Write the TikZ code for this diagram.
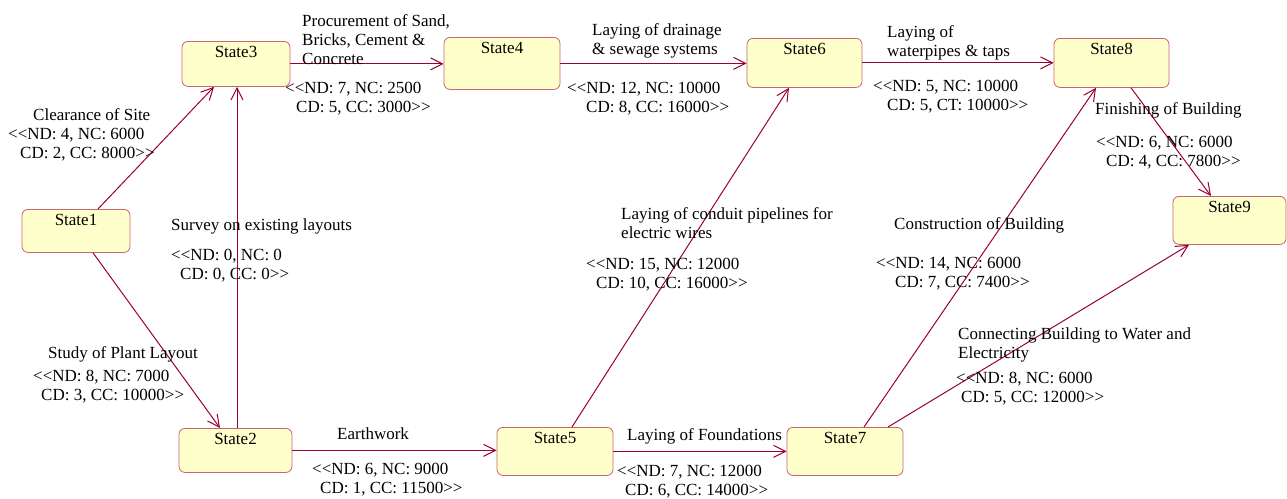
\documentclass[tikz,border=0pt]{standalone}
\usepackage{fontspec}
\setmainfont{Liberation Serif}
\usepackage{tikz}
\usetikzlibrary{arrows.meta,positioning}
\definecolor{stateedge}{RGB}{200,100,115}
\definecolor{statefill}{RGB}{255,255,204}
\definecolor{flowred}{RGB}{153,0,51}

\begin{document}
\begin{tikzpicture}[x=1pt, y=-1pt,
    statebox/.style={rectangle, draw=stateedge, fill=statefill, rounded corners=6pt, line width=0.8pt, minimum width=116pt, inner ysep=0pt, text height=16pt, text depth=32pt, anchor=north, font=\fontsize{17}{19}\selectfont},
    lbl/.style={inner sep=0pt, anchor=base west, align=left, font=\fontsize{17}{19}\selectfont},
    flow/.style={-{Straight Barb[length=12pt, width=12pt, line width=1pt]}, draw=flowred, line width=1pt}
]
    \useasboundingbox (0,0) rectangle (1287,498);

    % states
    \node[statebox, minimum width=108pt, text depth=27pt] (s1) at (76,209) {State1};
    \node[statebox, minimum width=113pt, text depth=28pt] (s2) at (235.5,428) {State2};
    \node[statebox, minimum width=108pt, text depth=29pt] (s3) at (236,41) {State3};
    \node[statebox, text depth=36pt] (s4) at (502,37) {State4};
    \node[statebox] (s5) at (555,427) {State5};
    \node[statebox, minimum width=115pt, text depth=33pt] (s6) at (804.5,38) {State6};
    \node[statebox] (s7) at (845,427) {State7};
    \node[statebox, minimum width=115pt, text depth=33pt] (s8) at (1111.5,38) {State8};
    \node[statebox, minimum width=113pt] (s9) at (1229.5,196) {State9};

    % transitions
    \draw[flow] ([xshift=22pt]s1.north) -- ([xshift=-22pt]s3.south);
    \draw[flow] ([xshift=17pt]s1.south) -- ([xshift=-15.5pt]s2.north);
    \draw[flow] ([xshift=1.5pt]s2.north) -- ([xshift=1.5pt]s2.north |- s3.south);
    \draw[flow] (s3.east) -- (s3.east -| s4.west);
    \draw[flow] (s4.east) -- (s4.east -| s6.west);
    \draw[flow] (s6.east) -- (s6.east -| s8.west);
    \draw[flow] (s2.east) -- (s2.east -| s5.west);
    \draw[flow] (s5.east) -- (s5.east -| s7.west);
    \draw[flow] ([xshift=17pt]s5.north) -- ([xshift=-15.5pt]s6.south);
    \draw[flow] ([xshift=19pt]s7.north) -- ([xshift=-15.5pt]s8.south);
    \draw[flow] ([xshift=43pt]s7.north) -- ([xshift=-40.5pt]s9.south);
    \draw[flow] ([xshift=19.5pt]s8.south) -- ([xshift=-18.5pt]s9.north);

    % labels (multi-line ones sit on the baseline of their last line)
    \node[lbl] (t13) at (33,120) {Clearance of Site};
    \node[lbl] (c13) at (8,158) {<{}<ND: 4, NC: 6000\\\hspace*{12pt}CD: 2, CC: 8000>{}>};
    \node[lbl] (t12) at (48,358) {Study of Plant Layout};
    \node[lbl] (c12) at (33,400) {<{}<ND: 8, NC: 7000\\\hspace*{8pt}CD: 3, CC: 10000>{}>};
    \node[lbl] (t23) at (171,230) {Survey on existing layouts};
    \node[lbl] (c23) at (171,279) {<{}<ND: 0, NC: 0\\\hspace*{9pt}CD: 0, CC: 0>{}>};
    \node[lbl] (t34) at (302,64) {Procurement of Sand,\\Bricks, Cement \&\\Concrete};
    \node[lbl] (c34) at (285,112) {<{}<ND: 7, NC: 2500\\\hspace*{11pt}CD: 5, CC: 3000>{}>};
    \node[lbl] (t46) at (592,54) {Laying of drainage\\\& sewage systems};
    \node[lbl] (c46) at (567,112) {<{}<ND: 12, NC: 10000\\\hspace*{19pt}CD: 8, CC: 16000>{}>};
    \node[lbl] (t68) at (887,56) {Laying of\\waterpipes \& taps};
    \node[lbl] (c68) at (873,110) {<{}<ND: 5, NC: 10000\\\hspace*{14pt}CD: 5, CT: 10000>{}>};
    \node[lbl] (t89) at (1095,114) {Finishing of Building};
    \node[lbl] (c89) at (1096,166) {<{}<ND: 6, NC: 6000\\\hspace*{10pt}CD: 4, CC: 7800>{}>};
    \node[lbl] (t25) at (337,439) {Earthwork};
    \node[lbl] (c25) at (312,493) {<{}<ND: 6, NC: 9000\\\hspace*{8pt}CD: 1, CC: 11500>{}>};
    \node[lbl] (t56) at (621,238) {Laying of conduit pipelines for\\electric wires};
    \node[lbl] (c56) at (586,288) {<{}<ND: 15, NC: 12000\\\hspace*{10pt}CD: 10, CC: 16000>{}>};
    \node[lbl] (t57) at (627,440) {Laying of Foundations};
    \node[lbl] (c57) at (617,495) {<{}<ND: 7, NC: 12000\\\hspace*{8pt}CD: 6, CC: 14000>{}>};
    \node[lbl] (t78) at (894,229) {Construction of Building};
    \node[lbl] (c78) at (876,287) {<{}<ND: 14, NC: 6000\\\hspace*{19pt}CD: 7, CC: 7400>{}>};
    \node[lbl] (t79) at (958,358) {Connecting Building to Water and\\Electricity};
    \node[lbl] (c79) at (956,402) {<{}<ND: 8, NC: 6000\\\hspace*{5pt}CD: 5, CC: 12000>{}>};
\end{tikzpicture}
\end{document}
